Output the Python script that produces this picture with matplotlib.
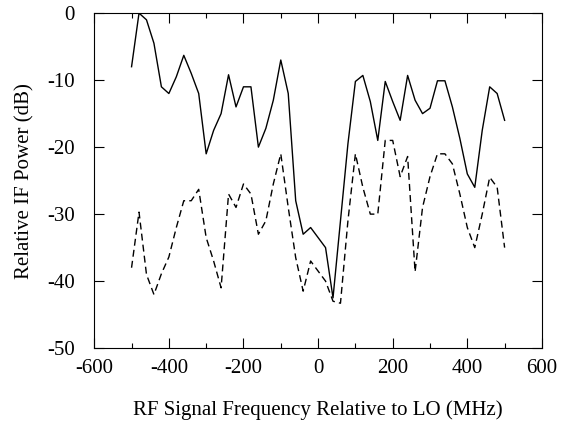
import numpy as np
import matplotlib
matplotlib.use("Agg")
import matplotlib.pyplot as plt
from matplotlib.ticker import MultipleLocator

plt.rcParams["font.family"] = ["Liberation Serif", "DejaVu Serif"]
plt.rcParams["axes.unicode_minus"] = False

freq = np.arange(-500, 501, 20)

power_solid = [-8, 0, -1, -4.5, -11, -12, -9.5, -6.3, -9, -12,
               -21, -17.5, -15, -9.2, -14, -11, -11, -20, -17.2, -13,
               -7, -12, -28, -33, -32, -33.5, -35, -42.5, -31, -19.5,
               -10.2, -9.3, -13.2, -19, -10.2, -13.2, -16, -9.3, -13, -15,
               -14.2, -10.1, -10.1, -14, -18.7, -24, -26, -17.5, -11, -12,
               -16]

power_dashed = [-38, -29.7, -39, -42, -38.9, -36.4, -32, -28, -28, -26.3,
                -33.5, -37, -41, -27, -29, -25.5, -27, -33, -31, -25.5,
                -21, -29, -36.5, -41.5, -37, -38.5, -40, -43, -43.3, -31,
                -21, -26, -30, -30, -19, -19, -24.4, -21.4, -38.6, -29,
                -24.4, -21, -21, -22.5, -27, -32, -35, -30, -24.5, -26,
                -35]

fig = plt.figure(figsize=(5.61, 4.23), dpi=100)
ax = fig.add_axes([0.168, 0.177, 0.798, 0.792])

ax.plot(freq, power_solid, color="black", lw=1.0)
ax.plot(freq, power_dashed, color="black", lw=1.0, linestyle=(0, (5, 3)))

ax.set_xlim(-600, 600)
ax.set_ylim(-50, 0)
ax.xaxis.set_major_locator(MultipleLocator(200))
ax.xaxis.set_minor_locator(MultipleLocator(100))
ax.yaxis.set_major_locator(MultipleLocator(10))
ax.tick_params(which="both", direction="in", top=True, right=True,
               labelsize=15, width=0.8)
ax.tick_params(axis="x", which="major", length=7, pad=8)
ax.tick_params(axis="x", which="minor", length=3.5)
ax.tick_params(axis="y", which="major", length=7, pad=14)

for s in ax.spines.values():
    s.set_linewidth(0.8)

ax.set_xlabel("RF Signal Frequency Relative to LO (MHz)", fontsize=15,
              labelpad=16)
ax.set_ylabel("Relative IF Power (dB)", fontsize=15, labelpad=9)

fig.savefig("out.png", dpi=100)
